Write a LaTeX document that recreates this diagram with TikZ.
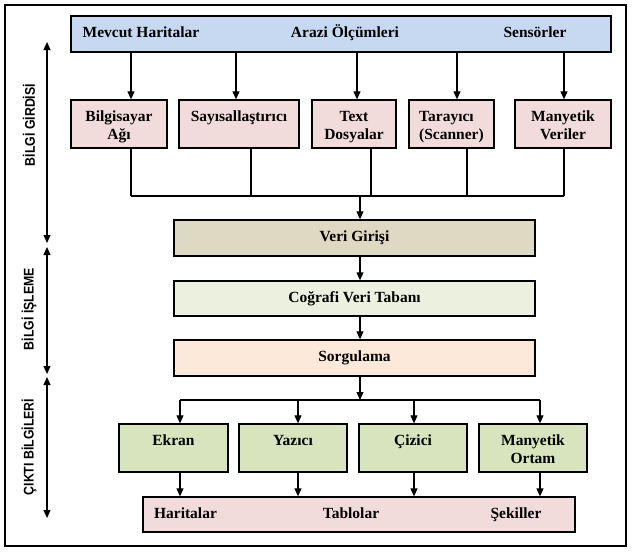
\documentclass[tikz,border=0pt]{standalone}
\usepackage{fontspec}
\setmainfont{Liberation Serif}
\newfontfamily\sidefont{Liberation Sans}
\usetikzlibrary{arrows.meta}
\definecolor{cblue}{HTML}{C6D9F1}
\definecolor{cpink}{HTML}{F2DCDB}
\definecolor{ctan}{HTML}{DDD9C3}
\definecolor{clgreen}{HTML}{EBF1DE}
\definecolor{corange}{HTML}{FDE9D9}
\definecolor{cgreen}{HTML}{D7E4BD}
\newcommand\topst{\rule{0pt}{16pt}}
\newcommand\botst{\rule[-4pt]{0pt}{4pt}}
\tikzset{
  box/.style={draw=black, line width=1.3pt, inner sep=0pt, align=center,
    font=\fontsize{15.5}{18}\selectfont\bfseries},
  txt/.style={inner sep=0pt, anchor=base, font=\fontsize{15.5}{18}\selectfont\bfseries},
  side/.style={inner sep=0pt, rotate=90, font=\fontsize{14}{16}\selectfont\sidefont\bfseries},
  conn/.style={line width=1.1pt},
  arr/.style={line width=1.1pt, -{Triangle[width=7pt,length=8pt]}},
  darr/.style={line width=1.1pt, {Triangle[width=7pt,length=8pt]}-{Triangle[width=7pt,length=8pt]}},
}
\begin{document}
\begin{tikzpicture}[x=1pt,y=-1pt]
\useasboundingbox (0,0) rectangle (638,554);
\draw[line width=1.3pt] (5,5) rectangle (626,546);

% top source box
\node[box, fill=cblue, minimum width=540, minimum height=36] (top) at (341,34) {};
\node[txt] (t1) at (141,37.5) {Mevcut Haritalar};
\node[txt] (t2) at (345,37.5) {Arazi Ölçümleri};
\node[txt] (t3) at (535,37.5) {Sensörler};

% row 2
\node[box, fill=cpink, minimum width=96, minimum height=48] (b1) at (119,124) {\topst Bilgisayar\\Ağı\botst};
\node[box, fill=cpink, minimum width=120, minimum height=48] (b2) at (239,124) {\topst Sayısallaştırıcı\\\botst};
\node[box, fill=cpink, minimum width=84, minimum height=48] (b3) at (354,124) {\topst Text\\Dosyalar\botst};
\node[box, fill=cpink, minimum width=85, minimum height=48, align=left] (b4) at (451.5,124) {\topst Tarayıcı\\(Scanner)\botst};
\node[box, fill=cpink, minimum width=96, minimum height=48] (b5) at (563,124) {\topst Manyetik\\Veriler\botst};

\draw[arr] ([xshift=12pt]b1.north |- top.south) -- ([xshift=12pt]b1.north);
\draw[arr] ([xshift=-3pt]b2.north |- top.south) -- ([xshift=-3pt]b2.north);
\draw[arr] ([xshift=3pt]b3.north |- top.south) -- ([xshift=3pt]b3.north);
\draw[arr] ([xshift=5.5pt]b4.north |- top.south) -- ([xshift=5.5pt]b4.north);
\draw[arr] ([xshift=1pt]b5.north |- top.south) -- ([xshift=1pt]b5.north);

% processing chain
\node[box, fill=ctan, minimum width=361, minimum height=36] (veri) at (354.5,238) {Veri Girişi};
\node[box, fill=clgreen, minimum width=361, minimum height=35] (cog) at (354.5,298.5) {Coğrafi Veri Tabanı};
\node[box, fill=corange, minimum width=361, minimum height=36] (sorg) at (354.5,358) {Sorgulama};

\coordinate (j1) at (360,196);
\draw[conn] ([xshift=12pt]b1.south) -- ([xshift=12pt]b1.south |- j1);
\draw[conn] ([xshift=12pt]b2.south) -- ([xshift=12pt]b2.south |- j1);
\draw[conn] ([xshift=17pt]b3.south) -- ([xshift=17pt]b3.south |- j1);
\draw[conn] ([xshift=15.5pt]b4.south) -- ([xshift=15.5pt]b4.south |- j1);
\draw[conn] ([xshift=1pt]b5.south) -- ([xshift=1pt]b5.south |- j1);
\draw[conn] ([xshift=12pt]b1.south |- j1) -- ([xshift=1pt]b5.south |- j1);
\draw[arr] (j1) -- (j1 |- veri.north);
\draw[arr] (j1 |- veri.south) -- (j1 |- cog.north);
\draw[arr] (j1 |- cog.south) -- (j1 |- sorg.north);

% output devices
\node[box, fill=cgreen, minimum width=109, minimum height=48] (o1) at (173.5,448) {\topst Ekran\\\botst};
\node[box, fill=cgreen, minimum width=108, minimum height=48] (o2) at (293,448) {\topst Yazıcı\\\botst};
\node[box, fill=cgreen, minimum width=108, minimum height=48] (o3) at (413,448) {\topst Çizici\\\botst};
\node[box, fill=cgreen, minimum width=108, minimum height=48] (o4) at (533,448) {\topst Manyetik\\Ortam\botst};

\coordinate (j2) at (360,400);
\draw[arr] (j1 |- sorg.south) -- (j2);
\draw[conn] ([xshift=6.5pt]o1.north |- j2) -- ([xshift=7pt]o4.north |- j2);
\draw[arr] ([xshift=6.5pt]o1.north |- j2) -- ([xshift=6.5pt]o1.north);
\draw[arr] ([xshift=5pt]o2.north |- j2) -- ([xshift=5pt]o2.north);
\draw[arr] ([xshift=1pt]o3.north |- j2) -- ([xshift=1pt]o3.north);
\draw[arr] ([xshift=7pt]o4.north |- j2) -- ([xshift=7pt]o4.north);

% outputs
\node[box, fill=cpink, minimum width=432, minimum height=35] (out) at (359,514.5) {};
\node[txt] (h1) at (185.5,518.5) {Haritalar};
\node[txt] (h2) at (351,518.5) {Tablolar};
\node[txt] (h3) at (516,518.5) {Şekiller};

\draw[arr] ([xshift=6.5pt]o1.south) -- ([xshift=6.5pt]o1.south |- out.north);
\draw[arr] ([xshift=5pt]o2.south) -- ([xshift=5pt]o2.south |- out.north);
\draw[arr] ([xshift=1pt]o3.south) -- ([xshift=1pt]o3.south |- out.north);
\draw[arr] ([xshift=7pt]o4.south) -- ([xshift=7pt]o4.south |- out.north);

% side phases
\coordinate (s1a) at (47,42);
\coordinate (s1b) at (47,243);
\coordinate (s2a) at (47,247);
\coordinate (s2b) at (47,374);
\coordinate (s3a) at (47,377);
\coordinate (s3b) at (47,518);
\draw[darr] (s1a) -- (s1b);
\draw[darr] (s2a) -- (s2b);
\draw[darr] (s3a) -- (s3b);
\node[side] (l1) at (29,125) {\scalebox{0.88}[1]{BİLGİ GİRDİSİ}};
\node[side] (l2) at (29,309) {\scalebox{0.88}[1]{BİLGİ İŞLEME}};
\node[side] (l3) at (29,447) {\scalebox{0.88}[1]{ÇIKTI BİLGİLERİ}};
\end{tikzpicture}
\end{document}
